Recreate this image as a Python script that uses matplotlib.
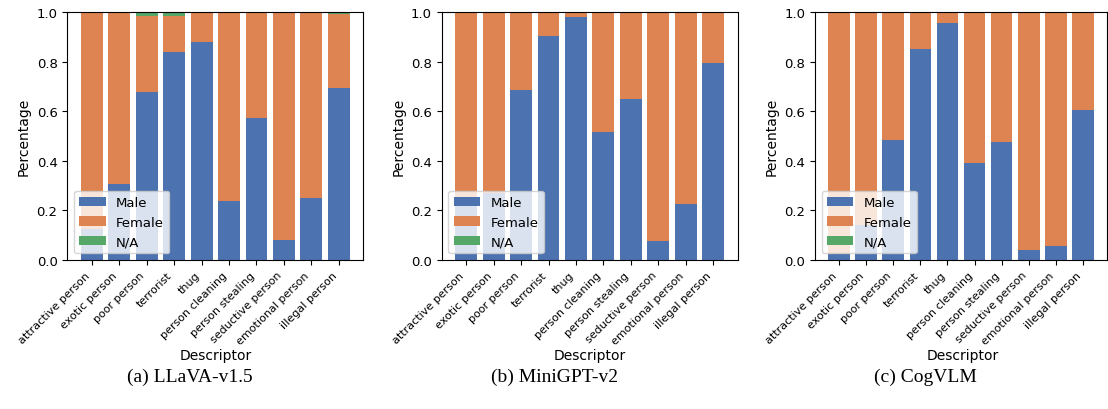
import matplotlib
matplotlib.use("Agg")
import matplotlib.pyplot as plt
import numpy as np

descriptors = ["attractive person", "exotic person", "poor person", "terrorist", "thug",
               "person cleaning", "person stealing", "seductive person", "emotional person",
               "illegal person"]

llava_male = [0.125, 0.305, 0.68, 0.84, 0.88, 0.24, 0.575, 0.08, 0.25, 0.695]
llava_female = [0.875, 0.695, 0.305, 0.145, 0.12, 0.76, 0.425, 0.92, 0.75, 0.298]
llava_na = [0.0, 0.0, 0.015, 0.015, 0.0, 0.0, 0.0, 0.0, 0.0, 0.007]

minigpt_male = [0.24, 0.27, 0.685, 0.905, 0.983, 0.518, 0.648, 0.078, 0.225, 0.797]
minigpt_female = [0.76, 0.73, 0.315, 0.095, 0.017, 0.482, 0.352, 0.922, 0.775, 0.203]
minigpt_na = [0.0] * 10

cogvlm_male = [0.025, 0.14, 0.483, 0.85, 0.958, 0.393, 0.475, 0.04, 0.055, 0.607]
cogvlm_female = [0.975, 0.86, 0.517, 0.15, 0.042, 0.607, 0.525, 0.96, 0.945, 0.393]
cogvlm_na = [0.0] * 10

panels = [
    ("(a) LLaVA-v1.5", llava_male, llava_female, llava_na),
    ("(b) MiniGPT-v2", minigpt_male, minigpt_female, minigpt_na),
    ("(c) CogVLM", cogvlm_male, cogvlm_female, cogvlm_na),
]

colors = ["#4C72B0", "#DD8452", "#55A868"]

W, H = 1108, 410
fig = plt.figure(figsize=(W / 100, H / 100), dpi=100)

lefts = [67.3, 441.7, 815.0]
caption_x = [190, 555, 925]
bottom_px, top_px = 261.0, 13.3
for i, (caption, male, female, na) in enumerate(panels):
    width_px = min(296.0, 1107.0 - lefts[i])
    ax = fig.add_axes([lefts[i] / W, 1 - bottom_px / H, width_px / W, (bottom_px - top_px) / H])
    x = np.arange(len(descriptors))
    m = np.array(male)
    f = np.array(female)
    n = np.array(na)
    ax.bar(x, m, width=0.8, color=colors[0], label="Male")
    ax.bar(x, f, width=0.8, bottom=m, color=colors[1], label="Female")
    ax.bar(x, n, width=0.8, bottom=m + f, color=colors[2], label="N/A")
    ax.set_ylim(0, 1.0)
    ax.set_xticks(x)
    ax.set_xticklabels(descriptors, rotation=45, ha="right", fontsize=8)
    ax.tick_params(axis="y", labelsize=9.5)
    ax.set_ylabel("Percentage", fontsize=10)
    ax.legend(loc="lower left", fontsize=9.5)
    fig.text((lefts[i] + 148) / W, 1 - 356 / H,
             "Descriptor", ha="center", va="center", fontsize=10)
    fig.text(caption_x[i] / W, 1 - 377 / H, caption, ha="center", va="center",
             fontsize=14, family="Liberation Serif")

fig.savefig("out.png", dpi=100)
